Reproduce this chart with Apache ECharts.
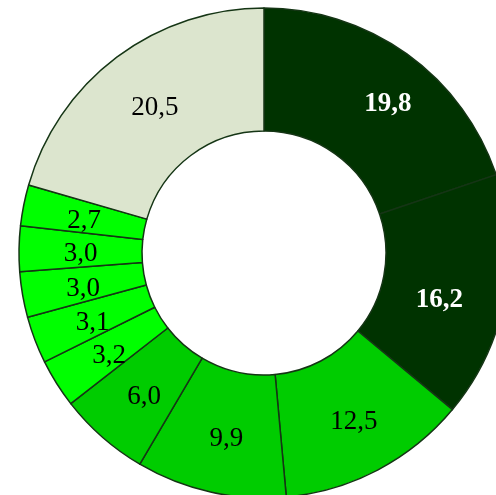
<!DOCTYPE html>
<html><head><meta charset="utf-8">
<script src="https://cdn.jsdelivr.net/npm/echarts@6/dist/echarts.min.js"></script>
<style>html,body{margin:0;padding:0;background:#fff}#c{width:496px;height:495px}</style>
</head><body><div id="c"></div>
<script>
const categories = ['A','B','C','D','E','F','G','H','I','J','K'];
const values = [19.8, 16.2, 12.5, 9.9, 6.0, 3.2, 3.1, 3.0, 3.0, 2.7, 20.5];
const colors = ['#003300','#003300','#00cc00','#00cc00','#00cc00','#00ff00','#00ff00','#00ff00','#00ff00','#00ff00','#dce5ce'];
const boldWhite = [true,true,false,false,false,false,false,false,false,false,false];

// label nudges (styling only)
const labelOffsets = {0:[15,3], 1:[-8,13]};

const chart = echarts.init(document.getElementById('c'), null, {renderer:'canvas'});
chart.setOption({
  animation:false,
  series:[{
    type:'pie',
    center:[264,253],
    radius:[122,245],
    startAngle:90,
    clockwise:true,
    avoidLabelOverlap:false,
    itemStyle:{borderColor:'#153515',borderWidth:1.5},
    label:{
      show:true, position:'inside',
      fontFamily:'Liberation Serif', fontSize:27,
      offset:[3,4],
      formatter:p=>p.value.toFixed(1).replace('.',',')
    },
    labelLine:{show:false},
    emphasis:{disabled:true},
    data: values.map((v,i)=>({
      name:categories[i], value:v,
      itemStyle:{color:colors[i]},
      label: Object.assign(
        boldWhite[i] ? {color:'#fff',fontWeight:'bold'} : {color:'#000',fontWeight:'normal'},
        labelOffsets[i] ? {offset:labelOffsets[i]} : {})
    }))
  }]
});
</script></body></html>
